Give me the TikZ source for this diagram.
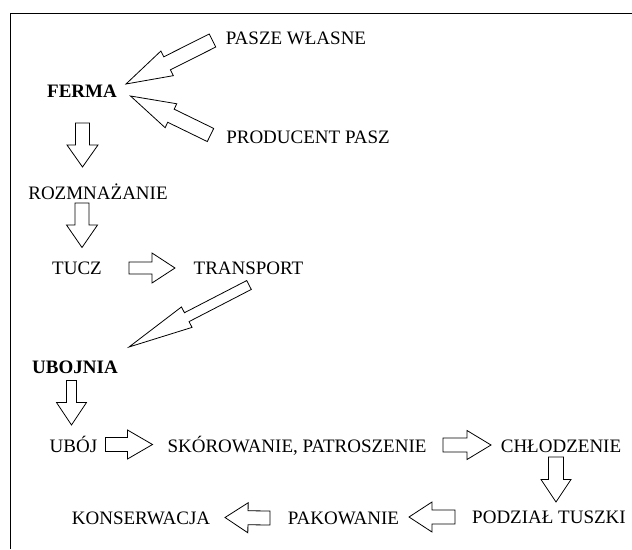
\documentclass[tikz,border=0pt]{standalone}
\usepackage{fontspec}
\setmainfont{Liberation Serif}
\usetikzlibrary{calc}
\tikzset{
  lbl/.style={inner sep=0pt, anchor=base, font=\fontsize{19}{22}\selectfont},
  lblb/.style={inner sep=0pt, anchor=base, font=\fontsize{19}{22}\selectfont\bfseries},
  blockarr/.style={draw=black, line width=0.8pt, fill=white, line join=miter},
  frameline/.style={draw=black, line width=1pt}
}
% #1 tail, #2 tip, #3 shaft half width, #4 head half width, #5 head length
\newcommand\blockarrow[5]{%
  \coordinate (#1-#2-h) at ($(#2)!#5!(#1)$);
  \draw[blockarr] ($(#1)!#3!90:(#2)$) -- ($(#1-#2-h)!#3!90:(#2)$) -- ($(#1-#2-h)!#4!90:(#2)$) -- (#2)
    -- ($(#1-#2-h)!#4!-90:(#2)$) -- ($(#1-#2-h)!#3!-90:(#2)$) -- ($(#1)!#3!-90:(#2)$) -- cycle;}
\begin{document}
\begin{tikzpicture}[x=1pt,y=-1pt]
\useasboundingbox (0,0) rectangle (632,549);
% frame
\coordinate (fa) at (10,549);
\coordinate (fb) at (10,13);
\coordinate (fc) at (632,13);
\draw[frameline] (fa) -- (fb) -- (fc);

% labels
\node[lbl]  (pasze) at (296,44)   {PASZE WŁASNE};
\node[lblb] (ferma) at (82,97)    {FERMA};
\node[lbl]  (prod)  at (308,143)  {PRODUCENT PASZ};
\node[lbl]  (rozm)  at (98,199)   {ROZMNAŻANIE};
\node[lbl]  (tucz)  at (77,274)   {TUCZ};
\node[lbl]  (trans) at (248.5,274) {TRANSPORT};
\node[lblb] (uboj)  at (75,373)   {UBOJNIA};
\node[lbl]  (ubojj) at (73.5,452.5) {UBÓJ};
\node[lbl]  (skor)  at (297,452)  {SKÓROWANIE, PATROSZENIE};
\node[lbl]  (chl)   at (561,452)  {CHŁODZENIE};
\node[lbl]  (podz)  at (549,523)  {PODZIAŁ TUSZKI};
\node[lbl]  (pak)   at (343.5,524) {PAKOWANIE};
\node[lbl]  (kons)  at (141,524)  {KONSERWACJA};

% arrow end points
\coordinate (t1) at (212.5,40.5); \coordinate (p1) at (126,84);
\coordinate (t2) at (210.5,135);  \coordinate (p2) at (130.5,96);
\coordinate (t3) at (82.5,123);   \coordinate (p3) at (82.5,167);
\coordinate (t4) at (82,203);     \coordinate (p4) at (82,247.5);
\coordinate (t5) at (129,268);    \coordinate (p5) at (175,268);
\coordinate (t6) at (249,285);    \coordinate (p6) at (129,347);
\coordinate (t7) at (71.5,380.5); \coordinate (p7) at (71.5,425);
\coordinate (t8) at (105.5,444.5); \coordinate (p8) at (152.5,444.5);
\coordinate (t9) at (443,445);    \coordinate (p9) at (491,445);
\coordinate (t10) at (556,457);   \coordinate (p10) at (556,502);
\coordinate (t11) at (455,517);   \coordinate (p11) at (409,517);
\coordinate (t12) at (270,518);   \coordinate (p12) at (225,517.5);

\blockarrow{t1}{p1}{7.3pt}{13.8pt}{46pt}
\blockarrow{t2}{p2}{7.3pt}{13.3pt}{45pt}
\blockarrow{t3}{p3}{7pt}{15.5pt}{22pt}
\blockarrow{t4}{p4}{7pt}{15.5pt}{22.5pt}
\blockarrow{t5}{p5}{6pt}{15pt}{23pt}
\blockarrow{t6}{p6}{5pt}{11.5pt}{65pt}
\blockarrow{t7}{p7}{5pt}{15pt}{22.5pt}
\blockarrow{t8}{p8}{7pt}{14.5pt}{25pt}
\blockarrow{t9}{p9}{7pt}{14.5pt}{24pt}
\blockarrow{t10}{p10}{7.5pt}{15pt}{22.5pt}
\blockarrow{t11}{p11}{7pt}{15pt}{23pt}
\blockarrow{t12}{p12}{7pt}{15pt}{23pt}
\end{tikzpicture}
\end{document}
